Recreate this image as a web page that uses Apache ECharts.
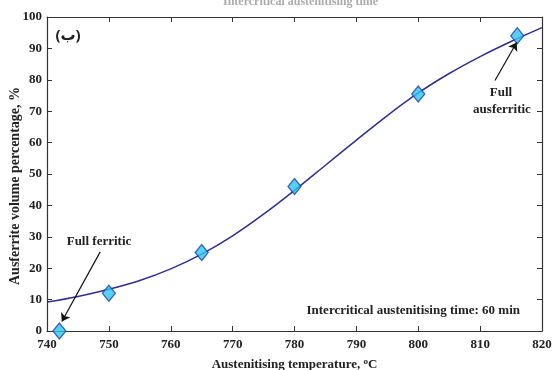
<!DOCTYPE html>
<html><head><meta charset="utf-8">
<script src="https://cdn.jsdelivr.net/npm/echarts@6/dist/echarts.min.js"></script>
<style>html,body{margin:0;padding:0;background:#fff}#c{width:552px;height:370px}</style>
</head><body><div id="c"></div>
<script>
// Measured points (temperature °C, ausferrite %)
const pointTemps = [742, 750, 765, 780, 800, 816];
const pointValues = [0, 12, 25, 46, 75.5, 94];
// Fitted curve
const curveTemps = [740, 745, 750, 755, 760, 765, 770, 775, 780, 785, 790, 795, 800, 805, 810, 815, 820];
const curveValues = [9.2, 11, 13.3, 16.1, 19.8, 24.5, 30.3, 37.2, 44.8, 52.8, 60.8, 68.6, 75.8, 82.0, 87.4, 92.2, 96.6];
const xTicks = [740, 750, 760, 770, 780, 790, 800, 810, 820];
const yTicks = [0, 10, 20, 30, 40, 50, 60, 70, 80, 90, 100];
const yTitle = 'Ausferrite volume percentage, %';

const FONT = 'Liberation Serif';
const TXT = '#222';
const chart = echarts.init(document.getElementById('c'));
const axisCommon = {
  type: 'value', axisLine: {show: true, onZero: false, lineStyle: {color: '#333', width: 1.2}},
  axisTick: {show: true, inside: true, length: 5, lineStyle: {color: '#333'}},
  splitLine: {show: false}
};
chart.setOption({
  animation: false,
  title: {text: 'Intercritical austenitising time', left: 218, top: -9,
    textStyle: {fontFamily: FONT, fontSize: 12, fontWeight: 'bold', color: '#aaa'}},
  grid: {left: 47, right: 10, top: 17, bottom: 39, outerBoundsMode: 'none', containLabel: false},
  xAxis: [
    Object.assign({}, axisCommon, {min: xTicks[0], max: xTicks[xTicks.length-1], interval: 10, position: 'bottom',
      axisLabel: {fontFamily: FONT, fontWeight: 'bold', fontSize: 13, color: TXT, margin: 7},
      name: '{a|Austenitising temperature, }{s|o}{a|C}', nameLocation: 'middle', nameGap: 26,
      nameTextStyle: {rich: {a: {fontFamily: FONT, fontWeight: 'bold', fontSize: 13, color: TXT},
        s: {fontFamily: FONT, fontWeight: 'bold', fontSize: 9, color: TXT, verticalAlign: 'top', padding: [0,0,6,0]}}}}),
    Object.assign({}, axisCommon, {min: xTicks[0], max: xTicks[xTicks.length-1], interval: 10, position: 'top',
      axisLabel: {show: false}})
  ],
  yAxis: [
    Object.assign({}, axisCommon, {min: yTicks[0], max: yTicks[yTicks.length-1], interval: 10, position: 'left',
      axisLabel: {fontFamily: FONT, fontWeight: 'bold', fontSize: 13, color: TXT, margin: 5}}),
    Object.assign({}, axisCommon, {min: yTicks[0], max: yTicks[yTicks.length-1], interval: 10, position: 'right',
      axisLabel: {show: false}})
  ],
  series: [
    {type: 'line', smooth: 0.3, symbol: 'none', data: curveTemps.map((t, i) => [t, curveValues[i]]),
      lineStyle: {color: '#2e2e96', width: 1.5}, z: 2,
      markLine: {silent: true, symbol: ['none', 'arrow'], symbolSize: 8,
        lineStyle: {color: '#111', width: 1.2, type: 'solid'}, label: {show: false},
        data: [
          [{coord: [748.6, 25.2]}, {coord: [742.4, 3.0]}],
          [{coord: [812.4, 79.8]}, {coord: [815.9, 91.9]}]
        ]}},
    {type: 'scatter', symbol: 'diamond', symbolSize: [13, 16], clip: true, z: 3,
      data: pointTemps.map((t, i) => [t, pointValues[i]]),
      itemStyle: {color: '#2cc6f2', borderColor: '#1d3f9e', borderWidth: 1.3}}
  ],
  graphic: [
    {type: 'text', x: 15, y: 186, rotation: Math.PI / 2, style: {text: yTitle, font: 'bold 14px "Liberation Serif"', fill: TXT, textAlign: 'center', textVerticalAlign: 'middle'}},
    {type: 'text', x: 68, y: 36, style: {text: '(ب)', font: 'bold 15px "Noto Sans", "DejaVu Sans"', fill: TXT, textAlign: 'center', textVerticalAlign: 'middle'}},
    {type: 'text', x: 99, y: 242, style: {text: 'Full ferritic', font: 'bold 13px "Liberation Serif"', fill: TXT, textAlign: 'center', textVerticalAlign: 'middle'}},
    {type: 'text', x: 501, y: 93, style: {text: 'Full', font: 'bold 13px "Liberation Serif"', fill: TXT, textAlign: 'center', textVerticalAlign: 'middle'}},
    {type: 'text', x: 502, y: 110, style: {text: 'ausferritic', font: 'bold 13px "Liberation Serif"', fill: TXT, textAlign: 'center', textVerticalAlign: 'middle'}},
    {type: 'text', x: 520, y: 311, style: {text: 'Intercritical austenitising time: 60 min', font: 'bold 13px "Liberation Serif"', fill: TXT, textAlign: 'right', textVerticalAlign: 'middle'}}
  ]
});
</script></body></html>
